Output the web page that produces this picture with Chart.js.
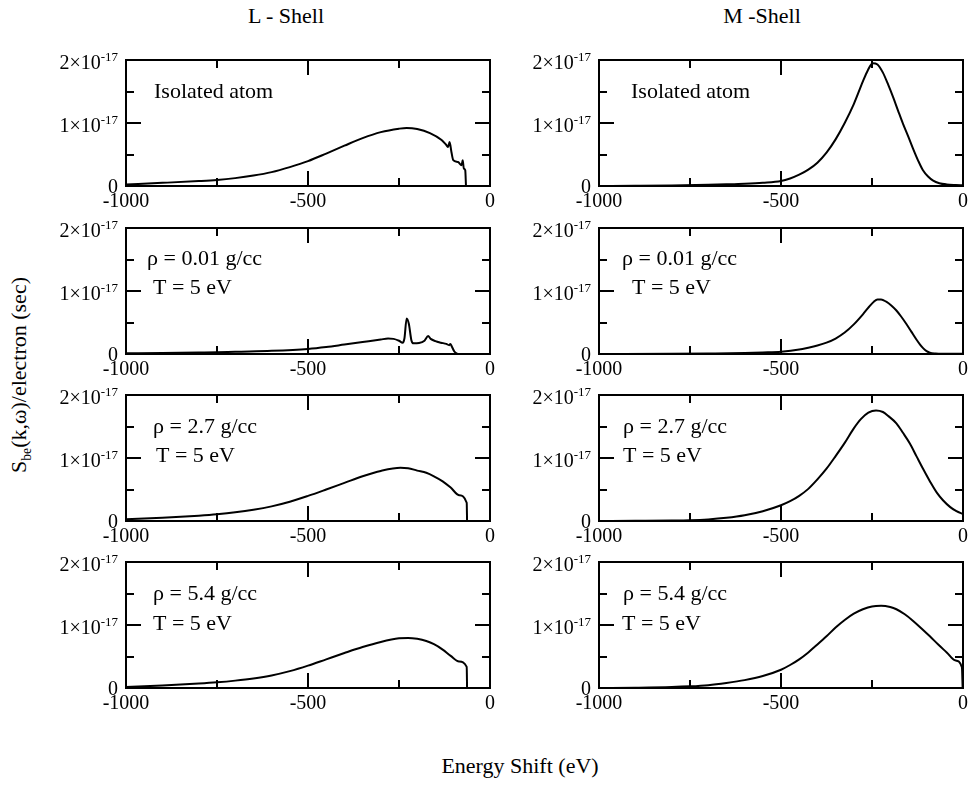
<!DOCTYPE html>
<html>
<head>
<meta charset="utf-8">
<title>S(k,w) per electron, L and M shells</title>
<script src="https://cdn.jsdelivr.net/npm/chart.js@4.4.1/dist/chart.umd.min.js"></script>
<style>
  html, body { margin: 0; padding: 0; background: #fff; }
  body {
    position: relative; width: 969px; height: 791px; overflow: hidden;
    font-family: "Liberation Serif", "DejaVu Serif", "Noto Serif", "Times New Roman", Times, serif; color: #000;
  }
  canvas { position: absolute; }
  .txt { position: absolute; white-space: nowrap; line-height: 1; }
  .txt sub { font-size: 0.62em; vertical-align: -0.35em; line-height: 0; }
</style>
</head>
<body>
<div class="txt" style="left:286px; top:5px; font-size:22px; transform:translateX(-50%)">L - Shell</div>
<div class="txt" style="left:762px; top:5px; font-size:22px; transform:translateX(-50%)">M -Shell</div>
<div class="txt" style="left:19px; top:375px; font-size:22px; transform:translate(-50%,-50%) rotate(-90deg)">S<sub>be</sub>(k,ω)/electron (sec)</div>
<div class="txt" style="left:520px; top:755px; font-size:22px; transform:translateX(-50%)">Energy Shift (eV)</div>

<script>
// energy shift axis (eV) and S values in units of 1e-17 s
const xTickValues = [-1000, -750, -500, -250, 0];
const yTickValues = [0, 0.5, 1, 1.5, 2];
const yLabelValues = [0, 1, 2];
const yExponent = '-17';

// L-shell, isolated atom
const lIsoE = [-1000, -900, -800, -750, -700, -650, -600, -550, -500, -450, -400, -350, -300, -250, -229, -200, -165, -133, -120, -115, -111, -106, -101, -88, -78, -75, -72, -68, -66];
const lIsoS = [0.025, 0.05, 0.078, 0.096, 0.125, 0.165, 0.22, 0.30, 0.395, 0.515, 0.64, 0.76, 0.855, 0.91, 0.922, 0.905, 0.84, 0.73, 0.65, 0.62, 0.70, 0.54, 0.41, 0.38, 0.33, 0.41, 0.28, 0.25, 0];

// M-shell, isolated atom
const mIsoE = [-1000, -900, -800, -700, -650, -600, -550, -500, -475, -450, -425, -400, -375, -350, -325, -300, -275, -262, -248, -235, -220, -205, -192, -178, -165, -150, -137, -123, -110, -96, -82, -65, -45, -20, 0];
const mIsoS = [0, 0.003, 0.008, 0.018, 0.026, 0.036, 0.052, 0.08, 0.12, 0.18, 0.26, 0.37, 0.53, 0.74, 1.0, 1.3, 1.66, 1.83, 1.95, 1.93, 1.80, 1.60, 1.41, 1.19, 0.99, 0.78, 0.59, 0.40, 0.25, 0.15, 0.085, 0.045, 0.025, 0.015, 0.01];

// L-shell, 0.01 g/cc, 5 eV
const l001E = [-1000, -900, -800, -750, -700, -600, -500, -450, -400, -350, -300, -280, -265, -250, -240, -235, -229, -223, -216, -210, -195, -180, -170, -163, -150, -135, -120, -112, -109, -105, -98, -92, -85, -65];
const l001S = [0.01, 0.015, 0.022, 0.026, 0.035, 0.05, 0.08, 0.11, 0.15, 0.19, 0.23, 0.245, 0.24, 0.21, 0.18, 0.25, 0.565, 0.48, 0.22, 0.17, 0.175, 0.21, 0.285, 0.24, 0.205, 0.18, 0.16, 0.14, 0.16, 0.12, 0.04, 0.01, 0, 0];

// M-shell, 0.01 g/cc, 5 eV
const m001E = [-1000, -800, -700, -600, -550, -500, -450, -425, -400, -375, -350, -325, -300, -275, -258, -245, -235, -225, -211, -197, -183, -170, -156, -142, -128, -118, -109, -100, -91, -75, -50, 0];
const m001S = [0, 0.003, 0.008, 0.016, 0.025, 0.037, 0.07, 0.1, 0.135, 0.18, 0.245, 0.34, 0.47, 0.63, 0.75, 0.83, 0.865, 0.865, 0.83, 0.77, 0.69, 0.595, 0.48, 0.355, 0.23, 0.15, 0.09, 0.045, 0.02, 0.008, 0.004, 0.002];

// L-shell, 2.7 g/cc, 5 eV
const l27E = [-1000, -950, -900, -850, -800, -750, -700, -650, -600, -550, -500, -450, -400, -350, -300, -246, -225, -200, -175, -154, -130, -108, -85, -64, -63];
const l27S = [0.026, 0.038, 0.05, 0.066, 0.085, 0.108, 0.138, 0.178, 0.232, 0.305, 0.398, 0.50, 0.605, 0.71, 0.795, 0.844, 0.838, 0.80, 0.765, 0.71, 0.63, 0.53, 0.41, 0.29, 0];

// M-shell, 2.7 g/cc, 5 eV
const m27E = [-1000, -900, -800, -750, -700, -650, -600, -550, -500, -475, -450, -425, -400, -375, -350, -325, -300, -280, -260, -239, -220, -205, -183, -165, -146, -128, -109, -90, -72, -55, -35, -18, 0];
const m27S = [0, 0.003, 0.007, 0.012, 0.025, 0.05, 0.09, 0.155, 0.25, 0.315, 0.40, 0.51, 0.66, 0.83, 1.03, 1.24, 1.47, 1.62, 1.72, 1.755, 1.73, 1.665, 1.55, 1.40, 1.23, 1.03, 0.82, 0.62, 0.45, 0.33, 0.22, 0.155, 0.11];

// L-shell, 5.4 g/cc, 5 eV
const l54E = [-1000, -950, -900, -850, -800, -750, -700, -650, -600, -550, -500, -450, -400, -350, -300, -250, -225, -200, -175, -154, -130, -108, -85, -64, -63];
const l54S = [0.016, 0.028, 0.04, 0.054, 0.07, 0.09, 0.117, 0.152, 0.2, 0.268, 0.355, 0.455, 0.555, 0.65, 0.73, 0.788, 0.795, 0.78, 0.745, 0.695, 0.61, 0.51, 0.42, 0.335, 0];

// M-shell, 5.4 g/cc, 5 eV
const m54E = [-1000, -900, -800, -750, -700, -650, -600, -550, -500, -475, -450, -425, -400, -375, -350, -325, -300, -275, -250, -225, -200, -183, -160, -137, -114, -91, -68, -44, -22, -3, -1];
const m54S = [0, 0.005, 0.015, 0.026, 0.045, 0.08, 0.125, 0.19, 0.29, 0.365, 0.455, 0.565, 0.69, 0.82, 0.96, 1.08, 1.18, 1.25, 1.295, 1.305, 1.285, 1.25, 1.17, 1.065, 0.945, 0.82, 0.69, 0.56, 0.44, 0.33, 0];

// page layout of the 2x4 grid of panels
const PLOT_W = 364, PLOT_H = 126;
const colLeft = [126, 599];
const rowTop = [60, 228, 395, 562];
const PAD_L = 100, PAD_T = 20, PAD_R = 6, PAD_B = 34;
const MAJOR = 15, MINOR = 8;
const SERIF = '"Liberation Serif", "DejaVu Serif", "Noto Serif", "Times New Roman", Times, serif';

// notes: [text, dx from plot left, baseline dy from plot top]
const panels = [
  { col: 0, row: 0, e: lIsoE, s: lIsoS, notes: [['Isolated atom', 28, 38]] },
  { col: 1, row: 0, e: mIsoE, s: mIsoS, notes: [['Isolated atom', 32, 38]] },
  { col: 0, row: 1, e: l001E, s: l001S, notes: [['ρ = 0.01 g/cc', 21, 37], ['T = 5 eV', 27, 66]] },
  { col: 1, row: 1, e: m001E, s: m001S, notes: [['ρ = 0.01 g/cc', 23, 37], ['T = 5 eV', 33, 66]] },
  { col: 0, row: 2, e: l27E, s: l27S, notes: [['ρ = 2.7 g/cc', 27, 38], ['T = 5 eV', 30, 67]] },
  { col: 1, row: 2, e: m27E, s: m27S, notes: [['ρ = 2.7 g/cc', 24, 38], ['T = 5 eV', 24, 67]] },
  { col: 0, row: 3, e: l54E, s: l54S, notes: [['ρ = 5.4 g/cc', 27, 38], ['T = 5 eV', 27, 68]] },
  { col: 1, row: 3, e: m54E, s: m54S, notes: [['ρ = 5.4 g/cc', 24, 38], ['T = 5 eV', 23, 68]] }
];

Chart.defaults.font.family = SERIF;
Chart.defaults.color = '#000';

// box frame, inward ticks on all four sides, y labels with exponent, notes
const frameAndTicks = {
  id: 'frameAndTicks',
  afterDatasetsDraw(chart, args, opts) {
    const { ctx, chartArea: a, scales: { x, y } } = chart;
    ctx.save();
    ctx.strokeStyle = '#000';
    ctx.lineWidth = 2;
    ctx.strokeRect(a.left, a.top, a.right - a.left, a.bottom - a.top);

    ctx.beginPath();
    xTickValues.forEach(v => {
      const px = Math.round(x.getPixelForValue(v));
      const len = v % 500 === 0 ? MAJOR : MINOR;
      ctx.moveTo(px, a.bottom); ctx.lineTo(px, a.bottom - len);
      ctx.moveTo(px, a.top); ctx.lineTo(px, a.top + len);
    });
    yTickValues.forEach(v => {
      const py = Math.round(y.getPixelForValue(v));
      const len = Number.isInteger(v) ? MAJOR : MINOR;
      ctx.moveTo(a.left, py); ctx.lineTo(a.left + len, py);
      ctx.moveTo(a.right, py); ctx.lineTo(a.right - len, py);
    });
    ctx.stroke();

    // y tick labels, e.g. 2×10^-17
    ctx.fillStyle = '#000';
    ctx.textAlign = 'right';
    ctx.textBaseline = 'alphabetic';
    const xr = a.left - 8;
    yLabelValues.forEach(v => {
      const py = y.getPixelForValue(v);
      if (v === 0) {
        ctx.font = '20px ' + SERIF;
        ctx.fillText('0', xr, py + 7);
        return;
      }
      ctx.font = '13px ' + SERIF;
      const supW = ctx.measureText(yExponent).width;
      ctx.fillText(yExponent, xr, py + 1);
      ctx.font = '20px ' + SERIF;
      ctx.fillText(v + '×10', xr - supW, py + 9);
    });

    // panel notes
    ctx.textAlign = 'left';
    ctx.font = '22px ' + SERIF;
    (opts.notes || []).forEach(([text, dx, dy]) => {
      ctx.fillText(text, a.left + dx, a.top + dy);
    });
    ctx.restore();
  }
};

panels.forEach(p => {
  const canvas = document.createElement('canvas');
  const w = PAD_L + PLOT_W + PAD_R;
  const h = PAD_T + PLOT_H + PAD_B;
  canvas.width = w;
  canvas.height = h;
  canvas.style.left = (colLeft[p.col] - PAD_L) + 'px';
  canvas.style.top = (rowTop[p.row] - PAD_T) + 'px';
  canvas.style.width = w + 'px';
  canvas.style.height = h + 'px';
  document.body.appendChild(canvas);

  new Chart(canvas.getContext('2d'), {
    type: 'line',
    data: {
      datasets: [{
        data: p.e.map((e, i) => ({ x: e, y: p.s[i] })),
        borderColor: '#000',
        borderWidth: 2,
        pointRadius: 0,
        fill: false,
        cubicInterpolationMode: 'monotone'
      }]
    },
    options: {
      responsive: false,
      animation: false,
      devicePixelRatio: 1,
      layout: { padding: { left: 0, top: PAD_T, right: PAD_R, bottom: 0 } },
      plugins: {
        legend: { display: false },
        tooltip: { enabled: false },
        frameAndTicks: { notes: p.notes }
      },
      scales: {
        x: {
          type: 'linear',
          min: -1000,
          max: 0,
          grid: { display: false, drawTicks: false },
          border: { display: false },
          ticks: {
            stepSize: 500,
            maxRotation: 0,
            autoSkip: false,
            padding: 4,
            font: { size: 20 },
            callback: v => String(v)
          },
          afterFit: s => { s.height = PAD_B; s.paddingLeft = 0; s.paddingRight = 0; }
        },
        y: {
          min: 0,
          max: 2,
          grid: { display: false, drawTicks: false },
          border: { display: false },
          ticks: { display: false },
          afterFit: s => { s.width = PAD_L; }
        }
      }
    },
    plugins: [frameAndTicks]
  });
});
</script>
</body>
</html>
